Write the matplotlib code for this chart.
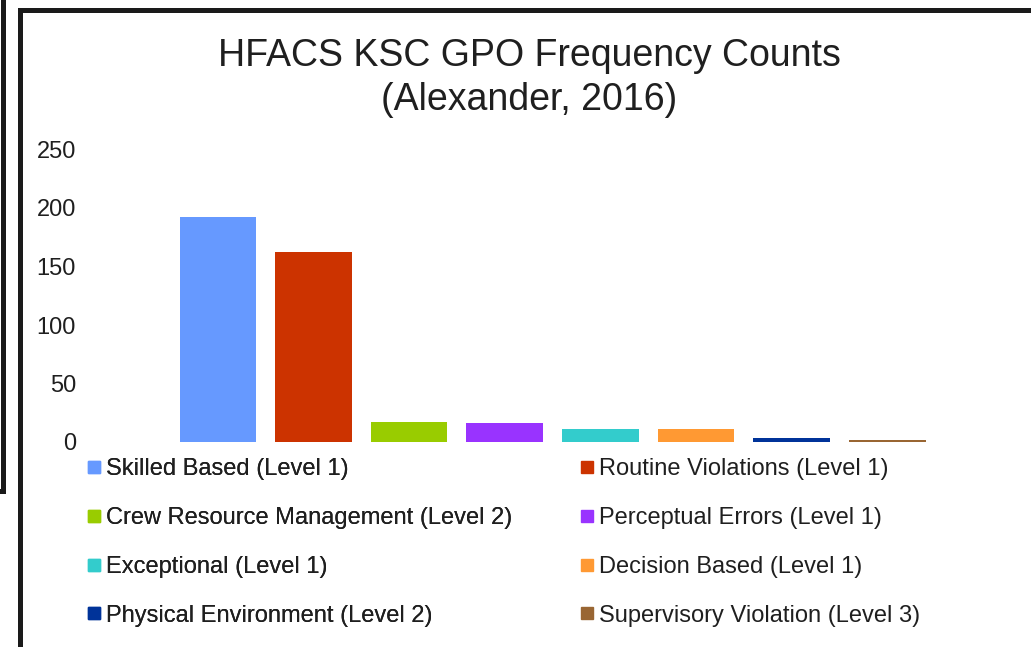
import matplotlib
matplotlib.use("Agg")
import matplotlib.pyplot as plt
from matplotlib.lines import Line2D

plt.rcParams['font.family'] = ['Liberation Sans', 'DejaVu Sans']

# Data
labels = ['Skilled Based (Level 1)', 'Routine Violations (Level 1)',
          'Crew Resource Management (Level 2)', 'Perceptual Errors (Level 1)',
          'Exceptional (Level 1)', 'Decision Based (Level 1)',
          'Physical Environment (Level 2)', 'Supervisory Violation (Level 3)']
counts = [192, 162, 17, 16, 11, 11, 3, 2]
colors = ['#6699FF', '#CC3300', '#99CC00', '#9933FF',
          '#33CCCC', '#FF9933', '#003399', '#996633']
yticks = [0, 50, 100, 150, 200, 250]

W, H = 1031, 647
fig = plt.figure(figsize=(W / 100, H / 100), dpi=100)
txt = '#1f1f1f'

# plot area in pixels
left, right, bottom, top = 81, 1025, 442, 149.5
ax = fig.add_axes([left / W, (H - bottom) / H, (right - left) / W, (bottom - top) / H])
ax.bar(range(len(counts)), counts, width=0.8, color=colors)
ax.set_xlim(-1.43, 8.44)
ax.set_ylim(0, 250)
ax.set_yticks(yticks)
ax.tick_params(axis='y', length=0, pad=3.6, labelsize=17, labelcolor=txt)
ax.set_xticks([])
for s in ax.spines.values():
    s.set_visible(False)

# title (two lines)
fig.text(529 / W, (H - 66) / H, 'HFACS KSC GPO Frequency Counts', ha='center',
         va='baseline', fontsize=27, color=txt)
fig.text(529 / W, (H - 110) / H, '(Alexander, 2016)', ha='center',
         va='baseline', fontsize=27, color=txt)

# legend: two separate columns, filled row by row
def make_handles(idx):
    return [Line2D([], [], marker='s', linestyle='none', markersize=8.6,
                   color=colors[i]) for i in idx]

leg_kw = dict(loc='center left', frameon=False, fontsize=17, handlelength=0.6,
              handletextpad=0.2, labelspacing=1.13, borderpad=0, borderaxespad=0,
              labelcolor=txt)
ymid = (H - 542.5) / H
col1 = [0, 2, 4, 6]
col2 = [1, 3, 5, 7]
leg1 = fig.legend(make_handles(col1), [labels[i] for i in col1],
                  bbox_to_anchor=(87 / W, ymid), **leg_kw)
fig.add_artist(leg1)
fig.legend(make_handles(col2), [labels[i] for i in col2],
           bbox_to_anchor=(580 / W, ymid), **leg_kw)

# frame lines around the chart
lw = 3.6
edge = '#1a1a1a'
def fline(xs, ys):
    fig.add_artist(Line2D([x / W for x in xs], [(H - y) / H for y in ys],
                          color=edge, lw=lw, solid_capstyle='projecting'))

fline([19.5, 19.5], [10, H + 10])
fline([19.5, W + 10], [10, 10])
fline([3, 3], [-10, 490.5])
fline([-10, 3], [490.5, 490.5])

fig.savefig('out.png', dpi=100)
